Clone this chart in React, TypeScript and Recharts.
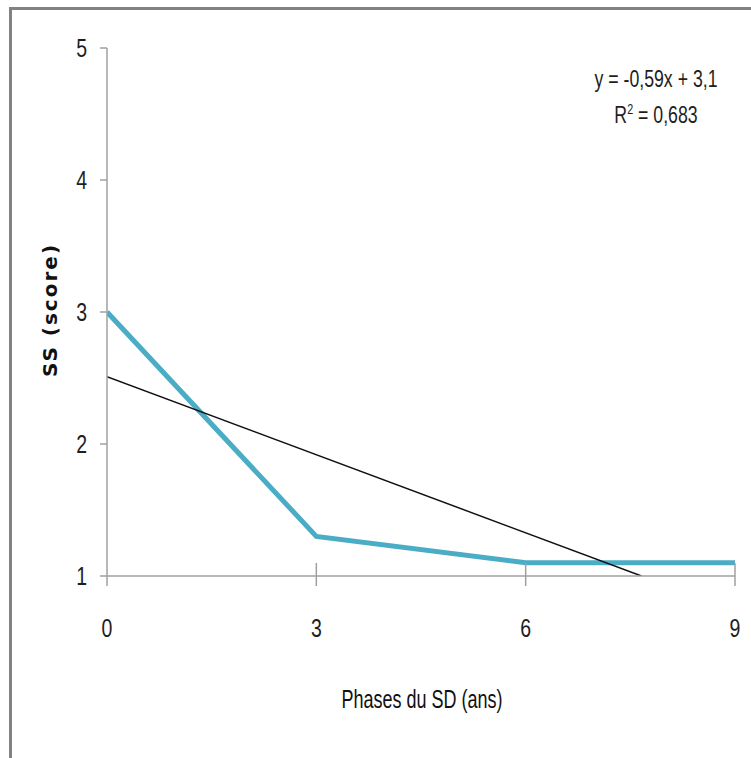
import React from "react";
import {
  ComposedChart,
  Line,
  XAxis,
  YAxis,
} from "recharts";

// SS score per phase of SD (years)
const phases = [0, 3, 6, 9];
const scores = [3.0, 1.3, 1.1, 1.1];

// linear trend y = -0,59x + 3,1 (x = phase index), clipped at the axis floor
const trendX = [0, 7.66];
const trendY = [2.51, 1.0];

const xTicks = [0, 3, 6, 9];
const yTicks = [1, 2, 3, 4, 5];

const seriesData = phases.map((p, i) => ({ x: p, ss: scores[i] }));
const trendData = trendX.map((x, i) => ({ x, trend: trendY[i] }));

const FONT = "'Liberation Sans', Arial, sans-serif";
const AXIS = "#a0a0a0";
const TEXT = "#1e1e1e";

// x ticks: a short mark crossing the axis, then a narrow label below it
const XTick = (props: any) => {
  const { x, y, payload, index } = props;
  return (
    <g>
      <line
        x1={x}
        x2={x}
        y1={index === 0 ? y : y - 13}
        y2={y + 10}
        stroke={AXIS}
        strokeWidth={1.5}
      />
      <g transform={`translate(${x},${y + 61}) scale(0.78,1)`}>
        <text textAnchor="middle" fill={TEXT} fontSize={25} fontFamily={FONT}>
          {payload.value}
        </text>
      </g>
    </g>
  );
};

const YTick = (props: any) => {
  const { x, y, payload } = props;
  return (
    <g transform={`translate(${x},${y + 9}) scale(0.78,1)`}>
      <text textAnchor="end" fill={TEXT} fontSize={25} fontFamily={FONT}>
        {payload.value}
      </text>
    </g>
  );
};

export default function App() {
  return (
    <div
      style={{
        position: "absolute",
        left: 0,
        top: 0,
        width: 751,
        height: 758,
        background: "#fff",
        overflow: "hidden",
      }}
    >
      <div
        style={{
          position: "absolute",
          left: 9,
          top: 7,
          width: 760,
          height: 780,
          borderTop: "3px solid #828282",
          borderLeft: "3px solid #828282",
        }}
      />
      <ComposedChart
        width={751}
        height={758}
        margin={{ top: 48, right: 16, bottom: 152, left: 47 }}
        style={{ position: "absolute", left: 0, top: 0 }}
      >
        <XAxis
          type="number"
          dataKey="x"
          domain={[0, 9]}
          ticks={xTicks}
          height={30}
          axisLine={{ stroke: AXIS, strokeWidth: 1.5 }}
          tickLine={false}
          tickSize={0}
          tickMargin={0}
          tick={<XTick />}
          allowDataOverflow
        />
        <YAxis
          type="number"
          domain={[1, 5]}
          ticks={yTicks}
          width={60}
          axisLine={{ stroke: AXIS, strokeWidth: 1.5 }}
          tickLine={{ stroke: AXIS, strokeWidth: 1.5 }}
          tickSize={7}
          tickMargin={13}
          tick={<YTick />}
          allowDataOverflow
        />
        <Line
          data={seriesData}
          dataKey="ss"
          type="linear"
          stroke="#4bacc6"
          strokeWidth={5}
          dot={false}
          isAnimationActive={false}
        />
        <Line
          data={trendData}
          dataKey="trend"
          type="linear"
          stroke="#111"
          strokeWidth={1.5}
          dot={false}
          isAnimationActive={false}
        />
      </ComposedChart>
      <div
        style={{
          position: "absolute",
          left: 556,
          top: 61,
          width: 200,
          textAlign: "center",
          fontFamily: FONT,
          fontSize: 23,
          lineHeight: "36px",
          color: TEXT,
          transform: "scaleX(0.77)",
          transformOrigin: "center",
        }}
      >
        <div>y = -0,59x + 3,1</div>
        <div>
          R<sup style={{ fontSize: 14, lineHeight: 0 }}>2</sup> = 0,683
        </div>
      </div>
      <div
        style={{
          position: "absolute",
          left: 222,
          top: 684,
          width: 400,
          textAlign: "center",
          fontFamily: FONT,
          fontSize: 25,
          lineHeight: "30px",
          color: "#111",
          transform: "scaleX(0.72)",
          transformOrigin: "center",
        }}
      >
        Phases du SD (ans)
      </div>
      <div
        style={{
          position: "absolute",
          left: 50,
          top: 310,
          transform: "translate(-50%, -50%) rotate(-90deg)",
          whiteSpace: "nowrap",
          fontFamily: "'DejaVu Sans', sans-serif",
          fontWeight: "bold",
          fontSize: 20,
          letterSpacing: 2,
          color: "#111",
        }}
      >
        SS (score)
      </div>
    </div>
  );
}
